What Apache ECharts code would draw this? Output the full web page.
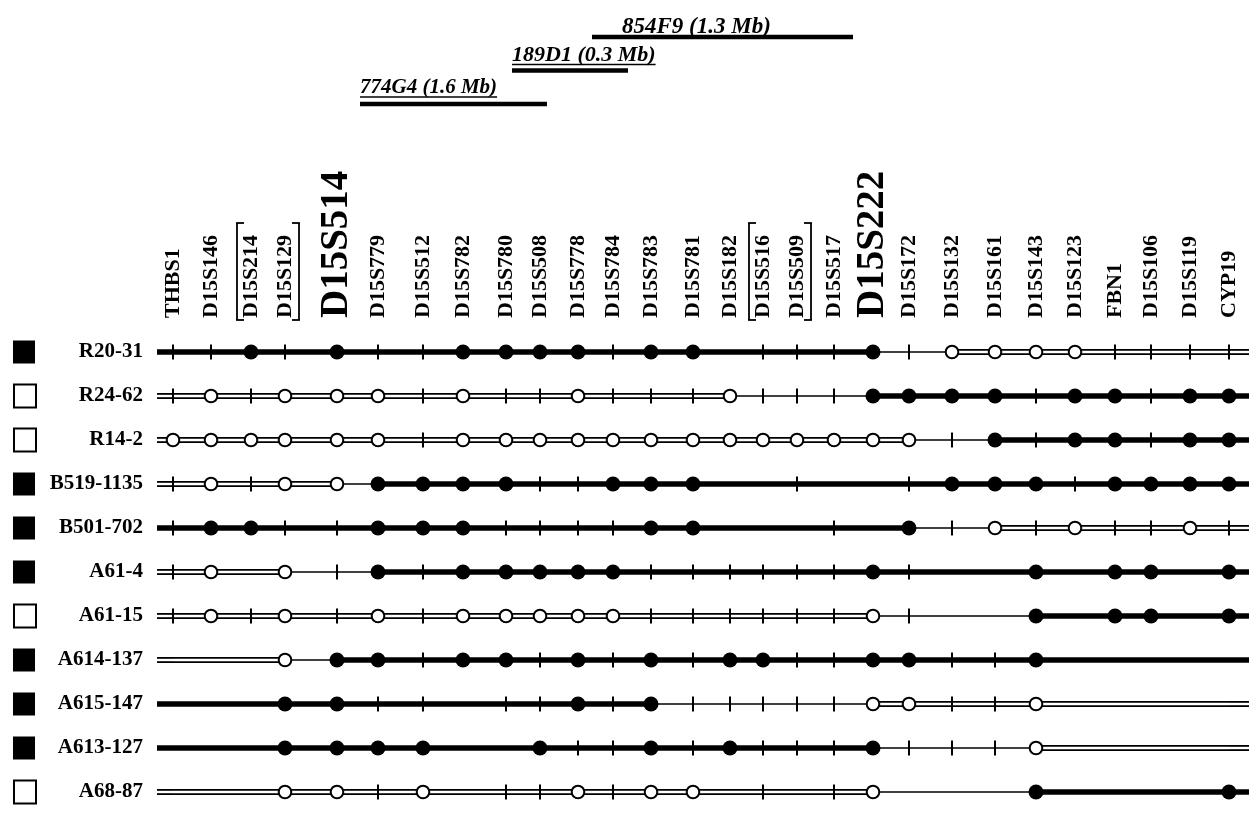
<!DOCTYPE html>
<html>
<head>
<meta charset="utf-8">
<script src="https://cdn.jsdelivr.net/npm/echarts@6/dist/echarts.min.js"></script>
<style>
html,body{margin:0;padding:0;background:#fff;}
#chart{width:1249px;height:836px;}
</style>
</head>
<body>
<div id="chart"></div>
<script>
// ---------------- data ----------------
const markerNames = ['THBS1','D15S146','D15S214','D15S129','D15S514','D15S779','D15S512','D15S782','D15S780','D15S508','D15S778','D15S784','D15S783','D15S781','D15S182','D15S516','D15S509','D15S517','D15S222','D15S172','D15S132','D15S161','D15S143','D15S123','FBN1','D15S106','D15S119','CYP19'];
// relative map positions of the markers along the chromosome
const markerPos = [16,54,94,128,180,221,266,306,349,383,421,456,494,536,573,606,640,677,716,752,795,838,879,918,958,994,1033,1072];
const keyMarkers = ['D15S514','D15S222'];
const mapEnd = 1092;

const rowNames = ['R20-31','R24-62','R14-2','B519-1135','B501-702','A61-4','A61-15','A614-137','A615-147','A613-127','A68-87'];
const rowAffected = [1,0,0,1,1,1,0,1,1,1,0];
// f = filled allele, o = open allele, + = uninformative, . = not typed
const rowSymbols = [
  '++f+f++ffff+ff.+++f+oooo++++',
  '+o+ooo+o++o+++o+++ffff+ff+ff',
  'oooooo+ooooooooooooo+f+ff+ff',
  '+o+ooffff++fff..+..+fff+ffff',
  '+ff++fff++++ff...+.f+o+o++o+',
  '+o.o+f+fffff++++++f+..f.ff.f',
  '+o+o+o+ooooo++++++o+..f.ff.f',
  '...off+ff+f+f+ff++ff++f.....',
  '...ff++.++f+f+++++oo++o.....',
  '...ffff..f++f+f+++f+++o.....',
  '...oo+o.++o+oo.+.+o...f....f'
];
// T = disease haplotype, D = normal haplotype, S = undetermined (29 segments)
const rowSegments = [
  'TTTTTTTTTTTTTTTTTTTSSDDDDDDDD',
  'DDDDDDDDDDDDDDDSSSSTTTTTTTTTT',
  'DDDDDDDDDDDDDDDDDDDDSSTTTTTTT',
  'DDDDDSTTTTTTTTTTTTTTTTTTTTTTT',
  'TTTTTTTTTTTTTTTTTTTTSSDDDDDDD',
  'DDDDSSTTTTTTTTTTTTTTTTTTTTTTT',
  'DDDDDDDDDDDDDDDDDDDSSSSTTTTTT',
  'DDDDSTTTTTTTTTTTTTTTTTTTTTTTT',
  'TTTTTTTTTTTTTSSSSSSDDDDDDDDDD',
  'TTTTTTTTTTTTTTTTTTTSSSSDDDDDD',
  'DDDDDDDDDDDDDDDDDDDSSSSTTTTTT'
];

const cloneNames = ['774G4','189D1','854F9'];
const cloneSizes = ['1.6 Mb','0.3 Mb','1.3 Mb'];
const cloneStart = [203,355,435];
const cloneEnd = [390,471,696];
const cloneLevel = [0,1,2];

const bracketGroups = [[2,3],[15,16]];

// ---------------- style ----------------
const SERIF = '"Liberation Serif","DejaVu Serif",serif';
const cloneLabelDx = [0,0,30];
const cloneLabelDy = [16,15,10];
const cloneFontSize = [21,22,23];

const measureCtx = document.createElement('canvas').getContext('2d');
function textWidth(str, font){ measureCtx.font = font; return measureCtx.measureText(str).width; }

function ln(x1,y1,x2,y2,w,c){
  return {type:'line', shape:{x1:x1,y1:y1,x2:x2,y2:y2}, style:{stroke:c,lineWidth:w,lineCap:'butt'}};
}

function renderRow(params, api){
  const r = api.value(1);
  const base = api.coord([0, r]);
  const y = base[1];
  const pts = [base[0]].concat(markerPos.map(p => api.coord([p, r])[0]), [api.coord([mapEnd, r])[0]]);
  const seg = rowSegments[r], sym = rowSymbols[r];
  const under = [], over = [], marks = [];
  for (let i = 0; i < pts.length - 1; i++){
    const a = pts[i], b = pts[i+1], s = seg[i];
    if (s === 'T') under.push(ln(a,y,b,y,5.5,'#000'));
    else if (s === 'S') under.push(ln(a,y,b,y,1.6,'#000'));
    else { under.push(ln(a,y,b,y,6,'#000')); over.push(ln(a,y,b,y,2.4,'#fff')); }
  }
  for (let k = 0; k < markerPos.length; k++){
    const x = pts[k+1], c = sym[k];
    if (c === '+') marks.push(ln(x,y-7.5,x,y+7.5,2,'#000'));
    else if (c === 'f') marks.push({type:'circle', shape:{cx:x,cy:y,r:7.5}, style:{fill:'#000'}});
    else if (c === 'o') marks.push({type:'circle', shape:{cx:x,cy:y,r:6.3}, style:{fill:'#fff',stroke:'#000',lineWidth:2}});
  }
  return {type:'group', children: under.concat(over, marks)};
}

function renderBracket(params, api){
  const g = bracketGroups[params.dataIndex];
  const y0 = api.coord([0,0])[1];
  const top = y0 - 129, bot = y0 - 32;
  const xl = api.coord([markerPos[g[0]],0])[0] - 14;
  const xr = api.coord([markerPos[g[1]],0])[0] + 14;
  const w = 1.8, c = '#000';
  return {type:'group', children:[
    ln(xl,top,xl,bot,w,c), ln(xl-0.9,top,xl+7,top,w,c), ln(xl-0.9,bot,xl+7,bot,w,c),
    ln(xr,top,xr,bot,w,c), ln(xr+0.9,top,xr-7,top,w,c), ln(xr+0.9,bot,xr-7,bot,w,c)
  ]};
}

function renderClone(params, api){
  const i = params.dataIndex;
  const p1 = api.coord([api.value(0), api.value(2)]);
  const p2 = api.coord([api.value(1), api.value(2)]);
  const label = cloneNames[i] + ' (' + cloneSizes[i] + ')';
  const font = 'italic bold ' + cloneFontSize[i] + 'px ' + SERIF;
  const tw = textWidth(label, font);
  const tx = p1[0] + cloneLabelDx[i];
  const cy = p1[1] - cloneLabelDy[i];
  return {type:'group', children:[
    {type:'rect', shape:{x:p1[0], y:p1[1]-2.2, width:p2[0]-p1[0], height:4.4}, style:{fill:'#000'}},
    {type:'text', style:{text:label, x:tx, y:cy, fill:'#000', font:font, align:'left', verticalAlign:'middle'}},
    ln(tx, cy + 9, tx + tw, cy + 9, 1.4, '#000')
  ]};
}

const chart = echarts.init(document.getElementById('chart'), null, {renderer:'canvas'});
chart.setOption({
  animation:false,
  backgroundColor:'#fff',
  grid:[
    {left:157, right:0, top:330, height:484},
    {left:157, right:0, top:37, height:67}
  ],
  xAxis:[
    {type:'value', gridIndex:0, position:'top', min:0, max:mapEnd,
     axisLine:{show:false}, axisTick:{show:false}, splitLine:{show:false},
     axisLabel:{
       customValues: markerPos, rotate:-90, margin:12, color:'#000',
       fontFamily:SERIF, fontWeight:'bold', fontSize:22,
       formatter: function(v){
         const n = markerNames[markerPos.indexOf(v)] || '';
         return keyMarkers.indexOf(n) >= 0 ? '{b|' + n + '}' : '{n|' + n + '}';
       },
       rich:{
         n:{fontFamily:SERIF, fontWeight:'bold', fontSize:22, color:'#000'},
         b:{fontFamily:SERIF, fontWeight:'bold', fontSize:39, color:'#000'}
       }
     }},
    {type:'value', gridIndex:1, min:0, max:mapEnd, show:false}
  ],
  yAxis:[
    {type:'category', gridIndex:0, inverse:true, data:rowNames,
     axisLine:{show:false}, axisTick:{show:false}, splitLine:{show:false},
     axisLabel:{
       margin:14,
       formatter:function(v, idx){
         return (rowAffected[idx] ? '{f|}' : '{o|}') + '{n|' + v + '}';
       },
       rich:{
         f:{width:22, height:23, backgroundColor:'#000'},
         o:{width:20, height:21, backgroundColor:'#fff', borderColor:'#000', borderWidth:2},
         n:{width:108, align:'right', fontFamily:SERIF, fontWeight:'bold', fontSize:21, color:'#000'}
       }
     }},
    {type:'value', gridIndex:1, min:0, max:2, show:false}
  ],
  series:[
    {type:'custom', xAxisIndex:0, yAxisIndex:0, clip:false, renderItem:renderRow,
     data: rowNames.map((_, i) => [0, i])},
    {type:'custom', xAxisIndex:0, yAxisIndex:0, clip:false, renderItem:renderBracket,
     data: bracketGroups.map(g => [markerPos[g[0]], 0])},
    {type:'custom', xAxisIndex:1, yAxisIndex:1, clip:false, renderItem:renderClone,
     data: cloneNames.map((_, i) => [cloneStart[i], cloneEnd[i], cloneLevel[i]])}
  ]
});
</script>
</body>
</html>
